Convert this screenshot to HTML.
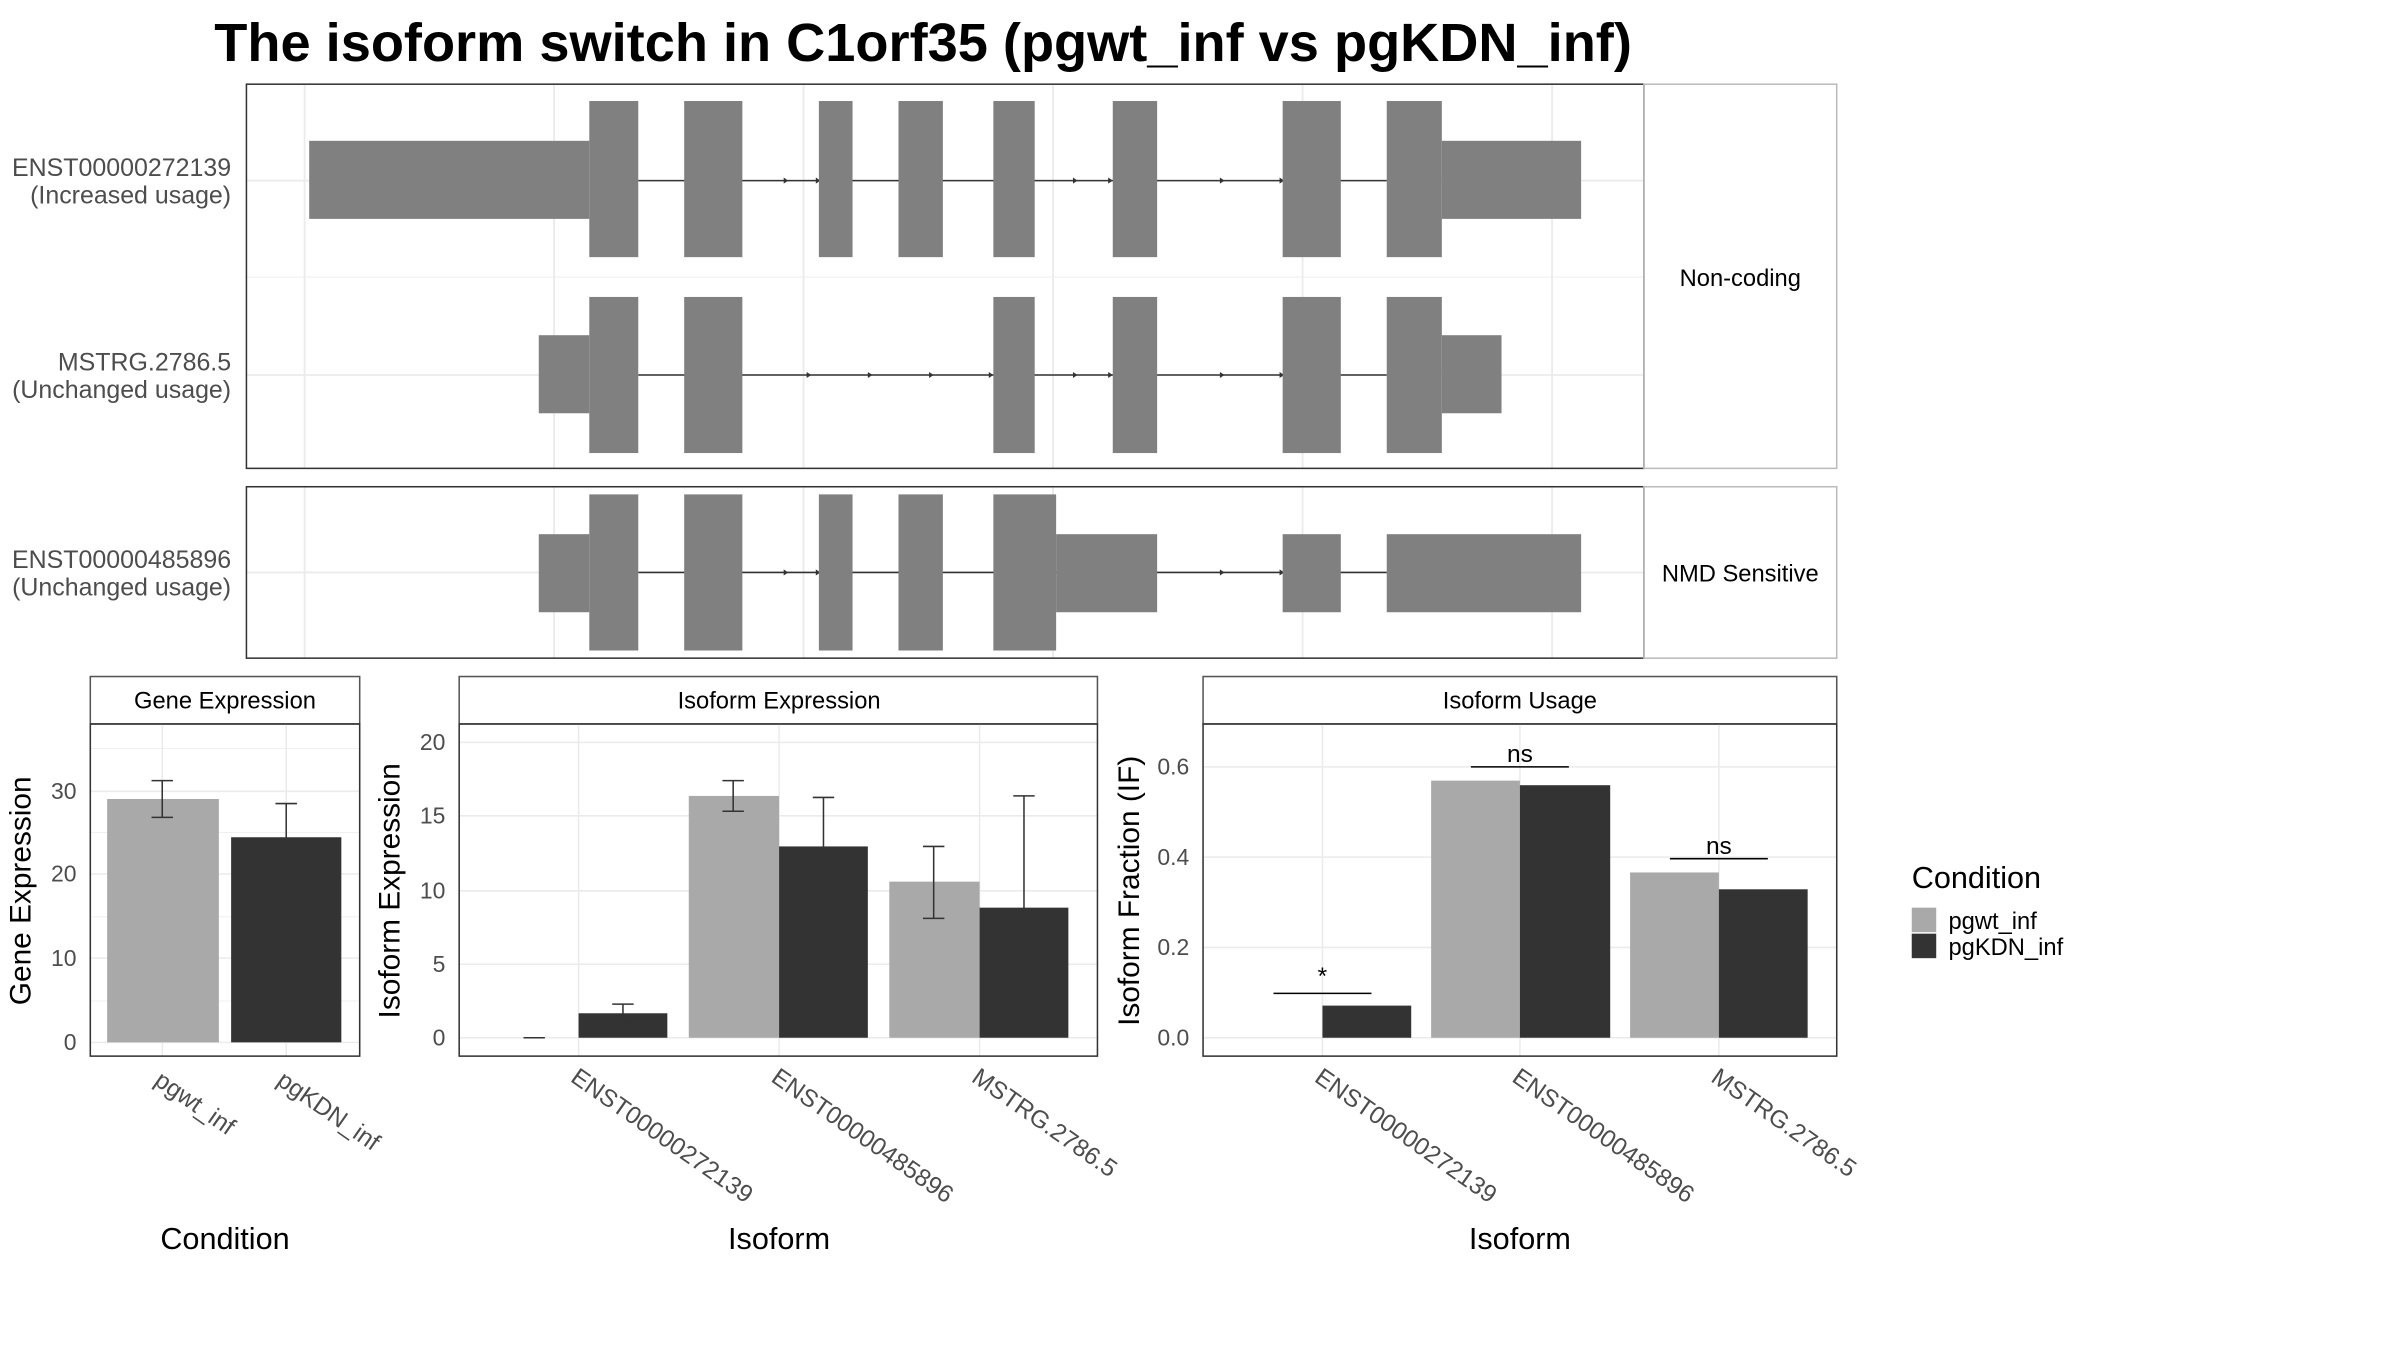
<!DOCTYPE html>
<html><head><meta charset="utf-8"><style>html,body{margin:0;padding:0;background:#fff}svg{display:block}</style></head><body>
<svg width="2400" height="1350" viewBox="0 0 1568 882" preserveAspectRatio="none" xmlns="http://www.w3.org/2000/svg" font-family="Liberation Sans, sans-serif">
<rect width="1568" height="882" fill="#fff"/>
<text x="140" y="40" font-size="35.4" font-weight="bold" fill="#000">The isoform switch in C1orf35 (pgwt_inf vs pgKDN_inf)</text>
<g stroke="#ebebeb" stroke-width="1.2">
<line x1="199" y1="55" x2="199" y2="306"/><line x1="362" y1="55" x2="362" y2="306"/><line x1="525" y1="55" x2="525" y2="306"/><line x1="688" y1="55" x2="688" y2="306"/><line x1="851" y1="55" x2="851" y2="306"/><line x1="1014" y1="55" x2="1014" y2="306"/>
<line x1="161" y1="118" x2="1074" y2="118"/><line x1="161" y1="181" x2="1074" y2="181" stroke-width="0.6"/><line x1="161" y1="245" x2="1074" y2="245"/>
<line x1="199" y1="318" x2="199" y2="430"/><line x1="362" y1="318" x2="362" y2="430"/><line x1="525" y1="318" x2="525" y2="430"/><line x1="688" y1="318" x2="688" y2="430"/><line x1="851" y1="318" x2="851" y2="430"/><line x1="1014" y1="318" x2="1014" y2="430"/>
<line x1="161" y1="374" x2="1074" y2="374"/>
</g>
<g stroke="#333" stroke-width="1"><line x1="417" y1="118" x2="906" y2="118"/><line x1="417" y1="245" x2="906" y2="245"/><line x1="417" y1="374" x2="906" y2="374"/></g>
<g fill="#333">
<path d="M512 116l3 2l-3 2z"/><path d="M533 116l3 2l-3 2z"/><path d="M701 116l3 2l-3 2z"/><path d="M724 116l3 2l-3 2z"/><path d="M797 116l3 2l-3 2z"/><path d="M836 116l3 2l-3 2z"/>
<path d="M527 243l3 2l-3 2z"/><path d="M567 243l3 2l-3 2z"/><path d="M607 243l3 2l-3 2z"/><path d="M646 243l3 2l-3 2z"/><path d="M701 243l3 2l-3 2z"/><path d="M724 243l3 2l-3 2z"/><path d="M797 243l3 2l-3 2z"/><path d="M836 243l3 2l-3 2z"/>
<path d="M512 372l3 2l-3 2z"/><path d="M533 372l3 2l-3 2z"/><path d="M797 372l3 2l-3 2z"/><path d="M836 372l3 2l-3 2z"/>
</g>
<g fill="#808080">
<rect x="202" y="92" width="183" height="51"/><rect x="385" y="66" width="32" height="102"/><rect x="447" y="66" width="38" height="102"/><rect x="535" y="66" width="22" height="102"/><rect x="587" y="66" width="29" height="102"/><rect x="649" y="66" width="27" height="102"/><rect x="727" y="66" width="29" height="102"/><rect x="838" y="66" width="38" height="102"/><rect x="906" y="66" width="36" height="102"/><rect x="942" y="92" width="91" height="51"/>
<rect x="352" y="219" width="33" height="51"/><rect x="385" y="194" width="32" height="102"/><rect x="447" y="194" width="38" height="102"/><rect x="649" y="194" width="27" height="102"/><rect x="727" y="194" width="29" height="102"/><rect x="838" y="194" width="38" height="102"/><rect x="906" y="194" width="36" height="102"/><rect x="942" y="219" width="39" height="51"/>
<rect x="352" y="349" width="33" height="51"/><rect x="385" y="323" width="32" height="102"/><rect x="447" y="323" width="38" height="102"/><rect x="535" y="323" width="22" height="102"/><rect x="587" y="323" width="29" height="102"/><rect x="649" y="323" width="41" height="102"/><rect x="690" y="349" width="66" height="51"/><rect x="838" y="349" width="38" height="51"/><rect x="906" y="349" width="127" height="51"/>
</g>
<g fill="none" stroke="#333"><rect x="161" y="55" width="913" height="251"/><rect x="161" y="318" width="913" height="112"/></g>
<g fill="none" stroke="#bbb"><rect x="1074" y="55" width="126" height="251"/><rect x="1074" y="318" width="126" height="112"/></g>
<text x="1137" y="187" font-size="15.5" text-anchor="middle">Non-coding</text>
<text x="1137" y="380" font-size="15.5" text-anchor="middle">NMD Sensitive</text>
<g font-size="16.3" fill="#4d4d4d" text-anchor="end">
<text x="151" y="115">ENST00000272139</text><text x="151" y="133">(Increased usage)</text>
<text x="151" y="242">MSTRG.2786.5</text><text x="151" y="260">(Unchanged usage)</text>
<text x="151" y="371">ENST00000485896</text><text x="151" y="389">(Unchanged usage)</text>
</g>
<!-- Gene expression -->
<rect x="59" y="442" width="176" height="31" fill="#fff" stroke="#555"/>
<text x="147" y="463" font-size="15.5" text-anchor="middle">Gene Expression</text>
<g stroke="#ebebeb"><line x1="59" y1="681" x2="235" y2="681"/><line x1="59" y1="626" x2="235" y2="626"/><line x1="59" y1="571" x2="235" y2="571"/><line x1="59" y1="517" x2="235" y2="517"/><line x1="59" y1="654" x2="235" y2="654" stroke-width="0.5"/><line x1="59" y1="599" x2="235" y2="599" stroke-width="0.5"/><line x1="59" y1="544" x2="235" y2="544" stroke-width="0.5"/><line x1="59" y1="489" x2="235" y2="489" stroke-width="0.5"/><line x1="106" y1="473" x2="106" y2="690"/><line x1="187" y1="473" x2="187" y2="690"/></g>
<rect x="70" y="522" width="73" height="159" fill="#a9a9a9"/><rect x="151" y="547" width="72" height="134" fill="#333"/>
<g stroke="#333" fill="none"><path d="M99 510H113M106 510V534M99 534H113M180 525H194M187 525V570M180 570H194"/></g>
<rect x="59" y="473" width="176" height="217" fill="none" stroke="#333"/>
<g font-size="15" fill="#4d4d4d" text-anchor="end"><text x="50" y="686">0</text><text x="50" y="631">10</text><text x="50" y="576">20</text><text x="50" y="522">30</text></g>
<text transform="translate(20,582) rotate(-90)" font-size="19.5" text-anchor="middle">Gene Expression</text>
<g font-size="16" fill="#4d4d4d"><text transform="translate(100,708) rotate(35)">pgwt_inf</text><text transform="translate(180,708) rotate(35)">pgKDN_inf</text></g>
<text x="147" y="816" font-size="20" text-anchor="middle">Condition</text>
<!-- Isoform expression -->
<rect x="300" y="442" width="417" height="31" fill="#fff" stroke="#555"/>
<text x="509" y="463" font-size="15.5" text-anchor="middle">Isoform Expression</text>
<g stroke="#ebebeb"><line x1="300" y1="678" x2="717" y2="678"/><line x1="300" y1="630" x2="717" y2="630"/><line x1="300" y1="582" x2="717" y2="582"/><line x1="300" y1="533" x2="717" y2="533"/><line x1="300" y1="485" x2="717" y2="485"/><line x1="378" y1="473" x2="378" y2="690"/><line x1="509" y1="473" x2="509" y2="690"/><line x1="640" y1="473" x2="640" y2="690"/></g>
<line x1="342" y1="678" x2="356" y2="678" stroke="#333"/>
<rect x="378" y="662" width="58" height="16" fill="#333"/>
<rect x="450" y="520" width="59" height="158" fill="#a9a9a9"/><rect x="509" y="553" width="58" height="125" fill="#333"/>
<rect x="581" y="576" width="59" height="102" fill="#a9a9a9"/><rect x="640" y="593" width="58" height="85" fill="#333"/>
<g stroke="#333" fill="none"><path d="M400 656H414M407 656V668M400 668H414M472 510H486M479 510V530M472 530H486M531 521H545M538 521V585M531 585H545M603 553H617M610 553V600M603 600H617M662 520H676M669 520V664M662 664H676"/></g>
<rect x="300" y="473" width="417" height="217" fill="none" stroke="#333"/>
<g font-size="15" fill="#4d4d4d" text-anchor="end"><text x="291" y="683">0</text><text x="291" y="635">5</text><text x="291" y="587">10</text><text x="291" y="538">15</text><text x="291" y="490">20</text></g>
<text transform="translate(261,582) rotate(-90)" font-size="19.5" text-anchor="middle">Isoform Expression</text>
<g font-size="16" fill="#4d4d4d"><text transform="translate(372,706) rotate(35)">ENST00000272139</text><text transform="translate(503,706) rotate(35)">ENST00000485896</text><text transform="translate(634,706) rotate(35)">MSTRG.2786.5</text></g>
<text x="509" y="816" font-size="20" text-anchor="middle">Isoform</text>
<!-- Isoform usage -->
<rect x="786" y="442" width="414" height="31" fill="#fff" stroke="#555"/>
<text x="993" y="463" font-size="15.5" text-anchor="middle">Isoform Usage</text>
<g stroke="#ebebeb"><line x1="786" y1="678" x2="1200" y2="678"/><line x1="786" y1="619" x2="1200" y2="619"/><line x1="786" y1="560" x2="1200" y2="560"/><line x1="786" y1="501" x2="1200" y2="501"/><line x1="864" y1="473" x2="864" y2="690"/><line x1="993" y1="473" x2="993" y2="690"/><line x1="1123" y1="473" x2="1123" y2="690"/></g>
<rect x="864" y="657" width="58" height="21" fill="#333"/>
<rect x="935" y="510" width="58" height="168" fill="#a9a9a9"/><rect x="993" y="513" width="59" height="165" fill="#333"/>
<rect x="1065" y="570" width="58" height="108" fill="#a9a9a9"/><rect x="1123" y="581" width="58" height="97" fill="#333"/>
<g stroke="#000"><line x1="832" y1="649" x2="896" y2="649"/><line x1="961" y1="501" x2="1025" y2="501"/><line x1="1091" y1="561" x2="1155" y2="561"/></g>
<g font-size="16" text-anchor="middle"><text x="864" y="643">*</text><text x="993" y="498">ns</text><text x="1123" y="558">ns</text></g>
<rect x="786" y="473" width="414" height="217" fill="none" stroke="#333"/>
<g font-size="15" fill="#4d4d4d" text-anchor="end"><text x="777" y="683">0.0</text><text x="777" y="624">0.2</text><text x="777" y="565">0.4</text><text x="777" y="506">0.6</text></g>
<text transform="translate(744,582) rotate(-90)" font-size="19.5" text-anchor="middle">Isoform Fraction (IF)</text>
<g font-size="16" fill="#4d4d4d"><text transform="translate(858,706) rotate(35)">ENST00000272139</text><text transform="translate(987,706) rotate(35)">ENST00000485896</text><text transform="translate(1117,706) rotate(35)">MSTRG.2786.5</text></g>
<text x="993" y="816" font-size="20" text-anchor="middle">Isoform</text>
<!-- legend -->
<text x="1249" y="580" font-size="20">Condition</text>
<rect x="1249" y="593" width="16" height="16" fill="#a9a9a9"/><rect x="1249" y="610" width="16" height="16" fill="#333"/>
<g font-size="15.5"><text x="1273" y="607">pgwt_inf</text><text x="1273" y="624">pgKDN_inf</text></g>
</svg>
</body></html>
